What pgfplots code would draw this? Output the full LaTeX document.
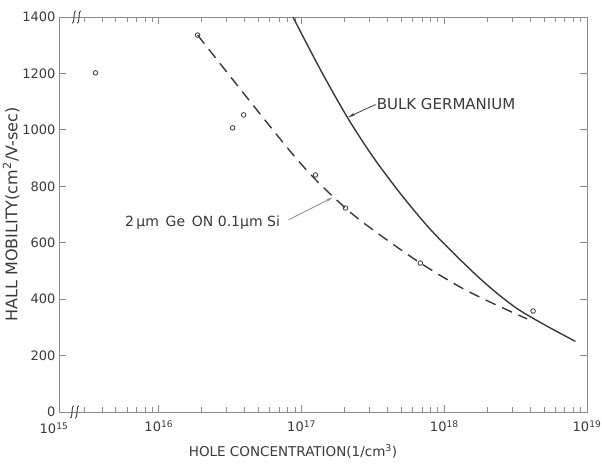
\documentclass[border=0pt]{standalone}
\usepackage{fontspec}
\setmainfont{DejaVu Sans}
\usepackage{pgfplots}
\pgfplotsset{compat=1.18}
\usetikzlibrary{arrows.meta}
\definecolor{ink}{HTML}{3A3A3A}
\definecolor{axc}{HTML}{8C8C8C}
\begin{document}
\begin{tikzpicture}[x=1pt,y=1pt]
\begin{axis}[
  at={(59pt,54pt)}, anchor=south west,
  scale only axis, width=528pt, height=395pt,
  xmode=log, xmin=2e15, xmax=1e19, ymin=0, ymax=1400,
  clip=false,
  xtick={1e16,1e17,1e18,1e19},
  xticklabels={10\textsuperscript{16},10\textsuperscript{17},10\textsuperscript{18},10\textsuperscript{19}},
  minor xtick={3e15,4e15,5e15,6e15,7e15,8e15,9e15,2e16,3e16,4e16,5e16,6e16,7e16,8e16,9e16,2e17,3e17,4e17,5e17,6e17,7e17,8e17,9e17,2e18,3e18,4e18,5e18,6e18,7e18,8e18,9e18},
  extra x ticks={2e15},
  extra x tick labels={10\textsuperscript{15}},
  extra x tick style={major tick length=0pt, xticklabel style={xshift=-5pt, yshift=-2pt}},
  ytick={0,200,...,1400},
  tick align=inside,
  major tick length=7pt, minor tick length=5pt,
  axis line style={axc, line width=0.9pt},
  every tick/.style={axc, line width=0.9pt},
  /pgf/number format/assume math mode=true,
  /pgf/number format/1000 sep={},
  yticklabel style={font=\fontsize{13}{13}\selectfont, text=ink},
  xticklabel style={font=\fontsize{13}{13}\selectfont, text=ink, yshift=-5pt},
  xlabel={HOLE CONCENTRATION(1/cm\textsuperscript{3})},
  ylabel={HALL MOBILITY(cm\textsuperscript{2}/V-sec)},
  xlabel style={font=\fontsize{13.5}{13.5}\selectfont, text=ink, xshift=-30pt, yshift=-4pt},
  ylabel style={font=\fontsize{16}{16}\selectfont, text=ink, yshift=-4pt},
]
\addplot[only marks, mark=o, mark size=2.3pt, ink, line width=0.8pt]
  coordinates {(3.6e15,1202) (1.87e16,1336) (3.29e16,1007) (3.93e16,1053) (1.25e17,840) (2.03e17,723) (6.8e17,528) (4.19e18,358)};
\addplot[ink, line width=1.4pt, dash pattern=on 11pt off 7pt, smooth]
  coordinates {(1.87e16,1336) (9.1e16,901) (2.03e17,723) (3.56e17,627) (6.8e17,528) (1.29e18,443) (2.17e18,386) (3.8e18,330)};
\addplot[ink, line width=1.4pt, smooth]
  coordinates {(8.7e16,1400) (1.35e17,1215) (2.09e17,1045) (3.16e17,905) (5.0e17,770) (7.9e17,650) (1.26e18,545) (2.0e18,450) (3.16e18,370) (5.0e18,310) (8.3e18,250)};
\node[anchor=west, text=ink, font=\fontsize{15}{15}\selectfont, inner sep=1pt] at (axis cs:3.3e17,1092) {BULK GERMANIUM};
\draw[ink, line width=0.8pt, -{Stealth[length=7pt,width=3pt]}] (axis cs:3.3e17,1090) -- (axis cs:2.12e17,1045);
\node[anchor=west, text=ink, font=\fontsize{14}{14}\selectfont, inner sep=1pt] at (axis cs:5.7e15,670) {2\,μm\, Ge\, ON 0.1μm Si};
\draw[axc, line width=0.8pt, -{Stealth[length=7pt,width=3pt]}] (axis cs:8.1e16,681) -- (axis cs:1.65e17,760);
% axis break marks
\draw[ink, line width=0.9pt] ([xshift=11pt,yshift=-6pt]rel axis cs:0,0) .. controls +(3pt,-1pt) and +(-3pt,1pt) .. ++(4pt,12pt);
\draw[ink, line width=0.9pt] ([xshift=16pt,yshift=-6pt]rel axis cs:0,0) .. controls +(3pt,-1pt) and +(-3pt,1pt) .. ++(4pt,12pt);
\draw[ink, line width=0.9pt] ([xshift=13pt,yshift=-6pt]rel axis cs:0,1) .. controls +(3pt,-1pt) and +(-3pt,1pt) .. ++(4pt,12pt);
\draw[ink, line width=0.9pt] ([xshift=18pt,yshift=-6pt]rel axis cs:0,1) .. controls +(3pt,-1pt) and +(-3pt,1pt) .. ++(4pt,12pt);
\end{axis}
\pgfresetboundingbox
\path (0,0) rectangle (602,466);
\end{tikzpicture}
\end{document}
